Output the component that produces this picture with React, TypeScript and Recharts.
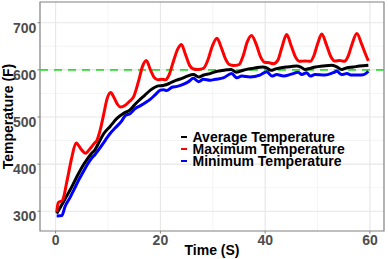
import React from 'react';
import { LineChart, Line, XAxis, YAxis, CartesianGrid, ReferenceLine, ReferenceArea, Legend, Label } from 'recharts';

const FONT = '"Liberation Sans", Arial, Helvetica, sans-serif';

const xDomain = [-2.985, 62.685];
const yDomain = [258, 744];
const xTicks = [0, 20, 40, 60];
const xMinorTicks = [10, 30, 50];
const yTicks = [300, 400, 500, 600, 700];
const yMinorTicks = [350, 450, 550, 650];
const targetTemp = 600;

const seriesNames = ['Average Temperature', 'Maximum Temperature', 'Minimum Temperature'];
const seriesColors = ['#000000', '#ff0000', '#0000ff'];

const avgTime = [0.2, 1, 2, 3, 4, 5, 6, 6.8, 7.5, 8.3, 9.2, 10.4, 11.7, 13, 14.2, 15, 16, 17, 18.1, 19.6, 20.5, 21.2, 22.2, 23.1, 24.1, 25, 26.3, 27.3, 28.3, 29.5, 30.5, 31.5, 32.7, 33.5, 34.5, 35.5, 36.5, 37.5, 38.5, 39.5, 40.3, 41.1, 42, 42.8, 44, 45, 46, 46.8, 47.6, 48.5, 49.6, 51, 52.7, 53.6, 54.6, 55.5, 56.8, 58, 59.7];
const avgTemp = [295, 310, 330, 350, 372, 393, 410, 422, 430, 447, 465, 480, 497, 508, 515, 525, 536, 546, 557, 566, 567, 569, 574, 578, 582, 586, 590, 585, 589, 592, 596, 598, 600, 601, 595, 598, 601, 603, 605, 606, 604, 599, 602, 604, 606, 607, 608, 606, 601, 603, 606, 608, 610, 607, 601, 604, 606, 608, 610];

const maxTime = [0.2, 0.5, 1.3, 2.2, 3.1, 3.9, 4.9, 5.7, 6.6, 7.3, 7.9, 8.5, 9.2, 9.8, 10.5, 11.2, 11.8, 12.4, 13.3, 14.1, 14.9, 15.8, 16.6, 17.3, 18.1, 18.8, 19.5, 20.3, 21.0, 21.6, 22.4, 23.3, 24.0, 24.8, 25.6, 26.3, 27.2, 28.2, 29.1, 29.9, 30.8, 31.6, 32.4, 33.2, 34.0, 35.0, 35.8, 36.6, 37.4, 38.3, 39.1, 39.9, 40.8, 41.6, 42.4, 43.2, 44.1, 45.0, 45.8, 46.6, 47.6, 48.6, 49.3, 50.0, 50.8, 51.7, 52.5, 53.3, 54.2, 55.1, 55.8, 56.6, 57.5, 58.4, 59.2, 59.7];
const maxTemp = [298, 318, 323, 366, 415, 445, 431, 423, 433, 443, 451, 472, 507, 538, 552, 540, 527, 521, 525, 533, 543, 575, 608, 620, 600, 584, 579, 580, 579, 588, 615, 644, 654, 632, 609, 602, 601, 603, 622, 650, 667, 648, 624, 611, 609, 611, 630, 660, 673, 654, 628, 616, 615, 613, 620, 648, 675, 650, 627, 618, 619, 618, 630, 655, 676, 653, 629, 619, 620, 618, 628, 655, 677, 655, 632, 619];

const minTime = [0.2, 1.2, 1.8, 2.8, 3.6, 4.4, 5.2, 6.0, 6.9, 7.5, 8.2, 9.5, 10.4, 11.4, 12.7, 13.3, 14.2, 15.2, 16.2, 17.1, 18.1, 19.0, 20.0, 20.6, 21.2, 22.2, 23.2, 24.1, 25.4, 26.3, 27.3, 28.2, 29.5, 30.5, 32.0, 33.6, 34.6, 35.5, 37.1, 39.0, 40.3, 41.3, 42.2, 43.5, 45.0, 46.3, 47.0, 47.9, 48.6, 49.5, 51.4, 53.0, 53.7, 54.6, 55.6, 56.5, 58.4, 59.2, 59.7];
const minTemp = [290, 291, 310, 330, 348, 366, 382, 398, 413, 420, 430, 451, 465, 477, 493, 503, 507, 518, 524, 530, 538, 547, 557, 558, 556, 563, 565, 568, 575, 582, 575, 580, 578, 580, 583, 592, 583, 587, 585, 589, 596, 587, 590, 587, 591, 595, 590, 594, 587, 590, 589, 594, 597, 590, 592, 589, 589, 592, 597];

const toData = (ts: number[], vs: number[]) => ts.map((t, i) => ({ t, v: vs[i] }));
const avgData = toData(avgTime, avgTemp);
const maxData = toData(maxTime, maxTemp);
const minData = toData(minTime, minTemp);

const YTick = (props: any) => {
  const { x, y, payload } = props;
  return (
    <text x={x} y={y} dy={10} textAnchor="end" fill="#4d4d4d" fontSize={14} fontWeight={700} fontFamily={FONT}>
      {payload.value}
    </text>
  );
};

const XTick = (props: any) => {
  const { x, y, payload } = props;
  return (
    <text x={x} y={y} dy={10} textAnchor="middle" fill="#4d4d4d" fontSize={14} fontWeight={700} fontFamily={FONT}>
      {payload.value}
    </text>
  );
};

const LegendBox = () => (
  <div style={{ fontFamily: FONT, fontWeight: 700, fontSize: 14, color: '#000', position: 'relative' }}>
    {seriesNames.map((name, i) => (
      <div key={name} style={{ position: 'relative', height: 12, lineHeight: '12px', whiteSpace: 'nowrap' }}>
        <span style={{ position: 'absolute', left: 0, top: 5, width: 5.5, height: 2.6, background: seriesColors[i] }} />
        <span style={{ position: 'absolute', left: 11.5, top: 0 }}>{name}</span>
      </div>
    ))}
  </div>
);

export default function App() {
  return (
    <div style={{ position: 'absolute', left: 0, top: 0, width: 388, height: 259, background: '#fff' }}>
      <LineChart width={388} height={259} margin={{ top: 2, right: 4, bottom: 0, left: 0 }}>
        <CartesianGrid stroke="#ececec" strokeWidth={0.6} horizontalValues={yMinorTicks} verticalValues={xMinorTicks} />
        <CartesianGrid stroke="#e6e6e6" strokeWidth={1.1} horizontalValues={yTicks} verticalValues={xTicks} />
        <XAxis
          type="number"
          dataKey="t"
          domain={xDomain}
          allowDataOverflow
          ticks={xTicks}
          height={28}
          tickSize={2.5}
          tickMargin={1.5}
          tickLine={{ stroke: '#808080', strokeWidth: 1 }}
          axisLine={false}
          tick={<XTick />}
          interval={0}
        >
          <Label
            content={(p: any) => {
              const vb = p.viewBox || { x: 40, y: 231, width: 344 };
              return (
                <text x={vb.x + vb.width / 2} y={vb.y + 24} textAnchor="middle" fill="#000" fontSize={14} fontWeight={700} fontFamily={FONT}>
                  Time (S)
                </text>
              );
            }}
          />
        </XAxis>
        <YAxis
          type="number"
          domain={yDomain}
          allowDataOverflow
          ticks={yTicks}
          width={40}
          tickSize={2.5}
          tickMargin={1.2}
          tickLine={{ stroke: '#808080', strokeWidth: 1 }}
          axisLine={false}
          tick={<YTick />}
          interval={0}
        >
          <Label
            content={(p: any) => {
              const vb = p.viewBox || { x: 0, y: 2, width: 40, height: 229 };
              const cx = 12.7;
              const cy = vb.y + vb.height / 2;
              return (
                <text x={cx} y={cy} transform={`rotate(-90 ${cx} ${cy})`} textAnchor="middle" fill="#000" fontSize={14} fontWeight={700} fontFamily={FONT}>
                  Temperature (F)
                </text>
              );
            }}
          />
        </YAxis>
        <ReferenceLine y={targetTemp} stroke="#2ee02e" strokeWidth={1.7} strokeDasharray="8 6" />
        <Line data={minData} dataKey="v" type="monotone" stroke={seriesColors[2]} strokeWidth={3} dot={false} isAnimationActive={false} name={seriesNames[2]} />
        <Line data={avgData} dataKey="v" type="monotone" stroke={seriesColors[0]} strokeWidth={3} dot={false} isAnimationActive={false} name={seriesNames[0]} />
        <Line data={maxData} dataKey="v" type="monotone" stroke={seriesColors[1]} strokeWidth={3} dot={false} isAnimationActive={false} name={seriesNames[1]} />
        <ReferenceArea
          x1={xDomain[0]}
          x2={xDomain[1]}
          y1={yDomain[0]}
          y2={yDomain[1]}
          fill="none"
          fillOpacity={0}
          stroke="#808080"
          strokeWidth={1.2}
          ifOverflow="visible"
        />
        <Legend
          layout="vertical"
          align="center"
          verticalAlign="middle"
          wrapperStyle={{ left: 181, top: 130.6, width: 180, height: 38, margin: 0, padding: 0 }}
          content={() => <LegendBox />}
        />
      </LineChart>
    </div>
  );
}
